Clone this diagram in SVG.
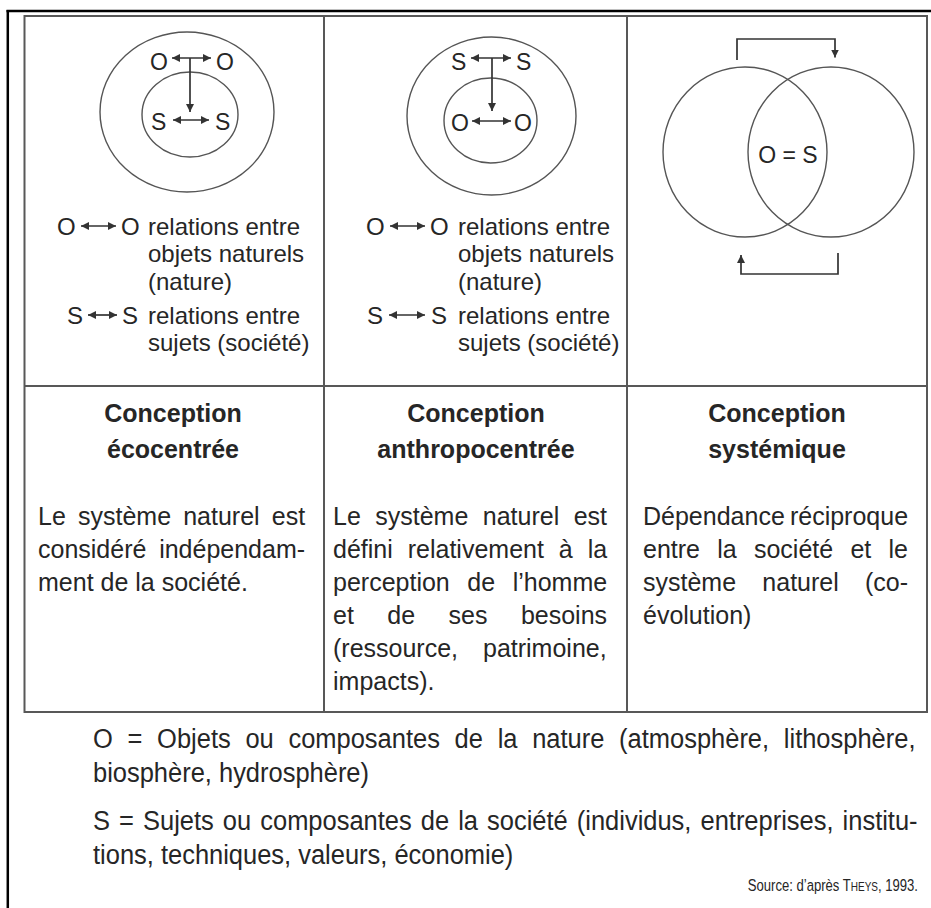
<svg xmlns="http://www.w3.org/2000/svg" width="931" height="908" viewBox="0 0 931 908">
<style>
.frame{stroke:#000;stroke-width:2.5;fill:none}
.grid{fill:none;stroke:#585858;stroke-width:2}
.circ{fill:none;stroke:#555;stroke-width:1.4}
.arr{stroke:#333;stroke-width:1.7;fill:none}
text{font-family:"Liberation Sans",Arial,sans-serif;fill:#262626}
.sym{font-size:23px}
.lab{font-size:24px}
.ttl{font-size:25px;font-weight:bold;text-anchor:middle}
.body{font-size:25px}
.leg{font-size:28px}
.src{font-size:17px}
</style>
<defs>
<marker id="ah" viewBox="0 0 10 10" refX="10" refY="5" markerWidth="8" markerHeight="8" markerUnits="userSpaceOnUse" orient="auto-start-reverse">
<path d="M0,0 L10,5 L0,10 z" fill="#333"/>
</marker>
</defs>
<rect width="931" height="908" fill="#fff"/>
<g id="frame">
<line class="frame" x1="6.5" y1="11" x2="931" y2="11"/>
<line class="frame" x1="7.8" y1="10" x2="7.8" y2="908"/>
<rect class="grid" x="24.5" y="16" width="902.5" height="696"/>
<line class="grid" x1="24.5" y1="386" x2="927" y2="386"/>
<line class="grid" x1="324" y1="16" x2="324" y2="712"/>
<line class="grid" x1="627" y1="16" x2="627" y2="712"/>
</g>
<g id="eco-diagram">
<ellipse class="circ" cx="187" cy="112" rx="87" ry="80"/>
<ellipse class="circ" cx="190" cy="114.5" rx="48" ry="42.5"/>
<text class="sym" x="150" y="70">O</text>
<text class="sym" x="216" y="70">O</text>
<text class="sym" x="151" y="130">S</text>
<text class="sym" x="215" y="130">S</text>
</g>
<g id="anthropo-diagram">
<ellipse class="circ" cx="491.5" cy="116" rx="84.5" ry="79"/>
<ellipse class="circ" cx="490.5" cy="120.5" rx="46.5" ry="42.5"/>
<text class="sym" x="451" y="70">S</text>
<text class="sym" x="516" y="70">S</text>
<text class="sym" x="451" y="131">O</text>
<text class="sym" x="514" y="131">O</text>
</g>
<g id="systemic-diagram">
<ellipse class="circ" cx="745" cy="152" rx="82" ry="85"/>
<ellipse class="circ" cx="831" cy="152" rx="83" ry="85"/>
<text class="sym" x="788" y="163" text-anchor="middle">O = S</text>
</g>
<g id="eco-legend">
<text class="lab" x="57" y="235">O</text>
<text class="lab" x="121" y="235">O</text>
<text class="lab" x="148" y="235">relations entre</text>
<text class="lab" x="148" y="262">objets naturels</text>
<text class="lab" x="148" y="290">(nature)</text>
<text class="lab" x="67" y="324">S</text>
<text class="lab" x="122" y="324">S</text>
<text class="lab" x="148" y="324">relations entre</text>
<text class="lab" x="148" y="351">sujets (société)</text>
</g>
<g id="anthropo-legend">
<text class="lab" x="366" y="235">O</text>
<text class="lab" x="430" y="235">O</text>
<text class="lab" x="458" y="235">relations entre</text>
<text class="lab" x="458" y="262">objets naturels</text>
<text class="lab" x="458" y="290">(nature)</text>
<text class="lab" x="367" y="324">S</text>
<text class="lab" x="431" y="324">S</text>
<text class="lab" x="458" y="324">relations entre</text>
<text class="lab" x="458" y="351">sujets (société)</text>
</g>
<g id="eco-text">
<text class="ttl" x="173" y="422">Conception</text>
<text class="ttl" x="173" y="458">écocentrée</text>
<text class="body" x="38" y="525" word-spacing="5.2">Le système naturel est</text>
<text class="body" x="38" y="558" word-spacing="5.8">considéré indépendam-</text>
<text class="body" x="38" y="591">ment de la société.</text>
</g>
<g id="anthropo-text">
<text class="ttl" x="476" y="422">Conception</text>
<text class="ttl" x="476" y="458">anthropocentrée</text>
<text class="body" x="333" y="525" word-spacing="7.5">Le système naturel est</text>
<text class="body" x="333" y="558" word-spacing="8">défini relativement à la</text>
<text class="body" x="333" y="591" word-spacing="10.6">perception de l’homme</text>
<text class="body" x="333" y="624" word-spacing="26.5">et de ses besoins</text>
<text class="body" x="333" y="657" word-spacing="18">(ressource, patrimoine,</text>
<text class="body" x="333" y="690">impacts).</text>
</g>
<g id="systemic-text">
<text class="ttl" x="777" y="422">Conception</text>
<text class="ttl" x="777" y="458">systémique</text>
<text class="body" x="643" y="525" word-spacing="-1.8">Dépendance réciproque</text>
<text class="body" x="643" y="558" word-spacing="10.3">entre la société et le</text>
<text class="body" x="643" y="591" word-spacing="19.3">système naturel (co-</text>
<text class="body" x="643" y="624">évolution)</text>
</g>
<g id="legend" transform="translate(93,0) scale(0.91,1)">
<text class="leg" x="0" y="748" word-spacing="8.4">O = Objets ou composantes de la nature (atmosphère, lithosphère,</text>
<text class="leg" x="0" y="782">biosphère, hydrosphère)</text>
<text class="leg" x="0" y="830" word-spacing="2.2">S = Sujets ou composantes de la société (individus, entreprises, institu-</text>
<text class="leg" x="0" y="864">tions, techniques, valeurs, économie)</text>
</g>
<g id="source">
<text class="src" transform="translate(918,891) scale(0.77,1)" text-anchor="end">Source: d’après T<tspan font-size="13">HEYS</tspan>, 1993.</text>
</g>
<g id="connectors">
<line class="arr" x1="172" y1="58" x2="211" y2="58" marker-start="url(#ah)" marker-end="url(#ah)"/>
<line class="arr" x1="190" y1="58" x2="190" y2="112" marker-end="url(#ah)"/>
<line class="arr" x1="173" y1="120" x2="209" y2="120" marker-start="url(#ah)" marker-end="url(#ah)"/>
<line class="arr" x1="471" y1="58" x2="511" y2="58" marker-start="url(#ah)" marker-end="url(#ah)"/>
<line class="arr" x1="492" y1="58" x2="492" y2="111" marker-end="url(#ah)"/>
<line class="arr" x1="472" y1="121" x2="511" y2="121" marker-start="url(#ah)" marker-end="url(#ah)"/>
<path class="arr" d="M737,60 V39 H835 V57.5" marker-end="url(#ah)"/>
<path class="arr" d="M838,253 V274 H741 V255" marker-end="url(#ah)"/>
<line class="arr" x1="81" y1="226" x2="116" y2="226" marker-start="url(#ah)" marker-end="url(#ah)"/>
<line class="arr" x1="88" y1="315" x2="117" y2="315" marker-start="url(#ah)" marker-end="url(#ah)"/>
<line class="arr" x1="390" y1="226" x2="425" y2="226" marker-start="url(#ah)" marker-end="url(#ah)"/>
<line class="arr" x1="389" y1="315" x2="425" y2="315" marker-start="url(#ah)" marker-end="url(#ah)"/>
</g>
</svg>
